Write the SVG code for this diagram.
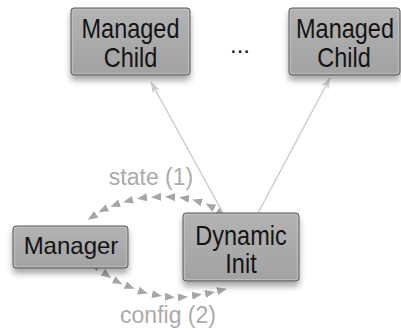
<svg xmlns="http://www.w3.org/2000/svg" width="401" height="331" viewBox="0 0 401 331">
<defs>
<style>
.box{fill:url(#g);stroke:#5a5a5a;stroke-width:1;filter:url(#sh)}
.inner{fill:none;stroke:#c4c4c4;stroke-width:1.2;opacity:0.7}
.t{font-family:"Liberation Sans",Arial,sans-serif;fill:#141414;text-anchor:middle}
.big{font-size:23.5px}
.lab{font-family:"Liberation Sans",Arial,sans-serif;font-size:23px;fill:#ababab;text-anchor:middle}
.edge{stroke:#cdcdcd;stroke-width:1.5;fill:none;marker-end:url(#ah)}
.dash{fill:none;stroke:none;marker-start:url(#tri-s);marker-mid:url(#tri);marker-end:url(#tri)}
</style>
<linearGradient id="g" x1="0" y1="0" x2="0" y2="1">
<stop offset="0" stop-color="#b3b3b3"/>
<stop offset="1" stop-color="#a2a2a2"/>
</linearGradient>
<filter id="sh" x="-20%" y="-20%" width="140%" height="160%">
<feGaussianBlur in="SourceAlpha" stdDeviation="3"/>
<feOffset dx="0" dy="5" result="b"/>
<feComponentTransfer><feFuncA type="linear" slope="0.35"/></feComponentTransfer>
<feMerge><feMergeNode/><feMergeNode in="SourceGraphic"/></feMerge>
</filter>
<marker id="ah" viewBox="0 0 12 8" refX="11" refY="4" markerWidth="12" markerHeight="8" markerUnits="userSpaceOnUse" orient="auto">
<path d="M0,0 L12,4 L0,8 L3,4 z" fill="#cdcdcd"/>
</marker>
<marker id="tri" viewBox="0 0 10 8" refX="5" refY="4" markerWidth="10" markerHeight="8" markerUnits="userSpaceOnUse" orient="auto">
<path d="M0,0 L10,4 L0,8 z" fill="#a6a6a6"/>
</marker>
<marker id="tri-s" viewBox="0 0 10 8" refX="5" refY="4" markerWidth="10" markerHeight="8" markerUnits="userSpaceOnUse" orient="auto-start-reverse">
<path d="M0,0 L10,4 L0,8 z" fill="#a6a6a6"/>
</marker>
</defs>

<g id="connectors">
<path class="edge" d="M223,213 L151,82"/>
<path class="edge" d="M258,213 L330,78"/>
<path class="dash" d="M221,214 L210,206 L197,201 L184,198 L170,197 L156,197 L142,198 L128,201 L115,205 L103,210 L92,217"/>
<path class="dash" d="M95,265 L107,275 L118,282 L130,287 L143,292 L157,295 L170,297 L183,297 L197,295 L210,293 L222,290"/>
</g>

<g id="child1">
<rect class="box" x="71" y="8" width="119" height="67" rx="3"/>
<rect class="inner" x="72.5" y="9.5" width="116" height="64" rx="2"/>
<text class="t big" transform="translate(130.5,38) scale(1,1.2)">Managed</text>
<text class="t big" transform="translate(130.5,67) scale(1,1.2)">Child</text>
</g>

<g id="child2">
<rect class="box" x="289" y="8" width="111" height="67" rx="3"/>
<rect class="inner" x="290.5" y="9.5" width="108" height="64" rx="2"/>
<text class="t big" transform="translate(345,38) scale(1,1.2)">Managed</text>
<text class="t big" transform="translate(344,67) scale(1,1.2)">Child</text>
</g>

<g id="ellipsis">
<text class="t" x="240" y="53" font-size="24">...</text>
</g>

<g id="manager">
<rect class="box" x="13" y="226" width="115" height="42" rx="3"/>
<rect class="inner" x="14.5" y="227.5" width="112" height="39" rx="2"/>
<text class="t" x="71" y="254" font-size="24" transform="translate(0,0)">Manager</text>
</g>

<g id="dynamic">
<rect class="box" x="183" y="213" width="116" height="68" rx="3"/>
<rect class="inner" x="184.5" y="214.5" width="113" height="65" rx="2"/>
<text class="t big" transform="translate(241,245) scale(1,1.2)">Dynamic</text>
<text class="t big" transform="translate(241,273) scale(1,1.2)">Init</text>
</g>

<g id="labels">
<text class="lab" x="151" y="185">state (1)</text>
<text class="lab" x="168" y="323">config (2)</text>
</g>
</svg>
